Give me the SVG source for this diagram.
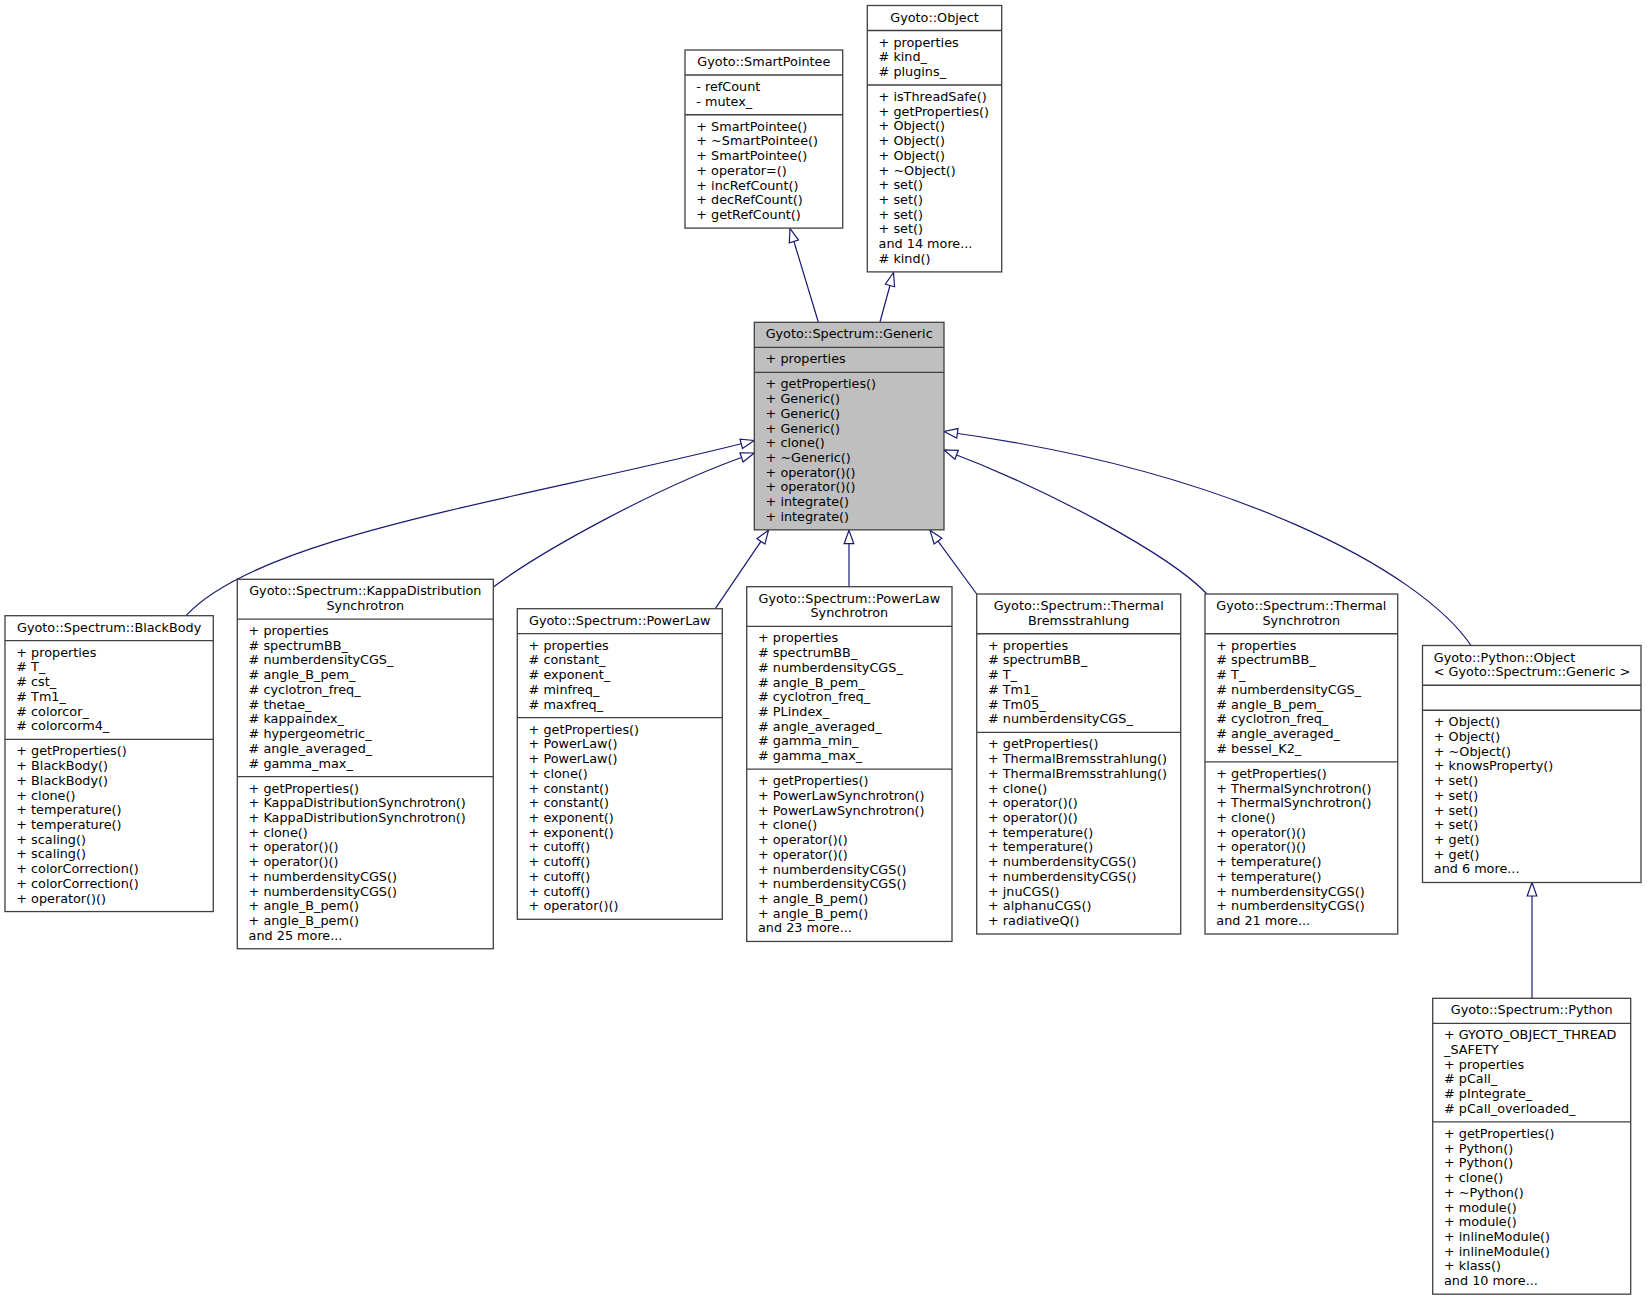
<svg xmlns="http://www.w3.org/2000/svg" width="1647" height="1300" viewBox="0 0 1647 1300">
<style>
text{font-family:"DejaVu Sans","Liberation Sans",sans-serif;font-size:12.8px;fill:#000}
.box{fill:#fff;stroke:#404040;stroke-width:1.3}
.cur{fill:#bfbfbf;stroke:#404040;stroke-width:1.3}
.sep{stroke:#404040;stroke-width:1.3}
.t{text-anchor:middle}
.e{fill:none;stroke:#191970;stroke-width:1.2;marker-end:url(#inh)}
</style>
<defs>
<marker id="inh" markerUnits="userSpaceOnUse" viewBox="-15 -7 17 14" refX="0" refY="0" markerWidth="17" markerHeight="14" orient="auto">
<path d="M0,0 L-13.5,-4.8 L-13.5,4.8 Z" fill="#fff" stroke="#191970" stroke-width="1.2"/>
</marker>
</defs>
<rect width="1647" height="1300" fill="#fff"/>

<g id="connectors">
<path class="e" d="M818.3,322 L790,228.5"/>
<path class="e" d="M880,322 L893.5,272.5"/>
<path class="e" d="M186,615.7 C260,535 520,500 754.3,440.5"/>
<path class="e" d="M493.4,587 C540,552 660,485 754.3,453"/>
<path class="e" d="M715.3,608.7 L768.5,530.2"/>
<path class="e" d="M849,586.7 L849,530.2"/>
<path class="e" d="M976.7,594 L930,530.2"/>
<path class="e" d="M1207,594 C1170,555 1050,490 944,450"/>
<path class="e" d="M1471,645.5 C1420,570 1230,470 944,431.5"/>
<path class="e" d="M1532,998.3 L1532,882.5"/>
</g>

<g id="SmartPointee">
<rect class="box" x="685" y="50" width="157.7" height="178.1"/>
<line class="sep" x1="685" y1="75.02" x2="842.7" y2="75.02"/>
<line class="sep" x1="685" y1="114.76" x2="842.7" y2="114.76"/>
<text class="t" x="763.85" y="66">Gyoto::SmartPointee</text>
<text x="696.3" y="91.02"><tspan x="696.3">- refCount</tspan><tspan x="696.3" dy="14.72">- mutex_</tspan></text>
<text x="696.3" y="130.76"><tspan x="696.3">+ SmartPointee()</tspan><tspan x="696.3" dy="14.72">+ ~SmartPointee()</tspan><tspan x="696.3" dy="14.72">+ SmartPointee()</tspan><tspan x="696.3" dy="14.72">+ operator=()</tspan><tspan x="696.3" dy="14.72">+ incRefCount()</tspan><tspan x="696.3" dy="14.72">+ decRefCount()</tspan><tspan x="696.3" dy="14.72">+ getRefCount()</tspan></text>
</g>

<g id="Object">
<rect class="box" x="867.3" y="5.5" width="134.4" height="266.4"/>
<line class="sep" x1="867.3" y1="30.52" x2="1001.7" y2="30.52"/>
<line class="sep" x1="867.3" y1="84.98" x2="1001.7" y2="84.98"/>
<text class="t" x="934.5" y="21.5">Gyoto::Object</text>
<text x="878.6" y="46.52"><tspan x="878.6">+ properties</tspan><tspan x="878.6" dy="14.72"># kind_</tspan><tspan x="878.6" dy="14.72"># plugins_</tspan></text>
<text x="878.6" y="100.98"><tspan x="878.6">+ isThreadSafe()</tspan><tspan x="878.6" dy="14.72">+ getProperties()</tspan><tspan x="878.6" dy="14.72">+ Object()</tspan><tspan x="878.6" dy="14.72">+ Object()</tspan><tspan x="878.6" dy="14.72">+ Object()</tspan><tspan x="878.6" dy="14.72">+ ~Object()</tspan><tspan x="878.6" dy="14.72">+ set()</tspan><tspan x="878.6" dy="14.72">+ set()</tspan><tspan x="878.6" dy="14.72">+ set()</tspan><tspan x="878.6" dy="14.72">+ set()</tspan><tspan x="878.6" dy="14.72">and 14 more...</tspan><tspan x="878.6" dy="14.72"># kind()</tspan></text>
</g>

<g id="Generic">
<rect class="cur" x="754.3" y="322.3" width="189.7" height="207.54"/>
<line class="sep" x1="754.3" y1="347.32" x2="944" y2="347.32"/>
<line class="sep" x1="754.3" y1="372.34" x2="944" y2="372.34"/>
<text class="t" x="849.15" y="338.3">Gyoto::Spectrum::Generic</text>
<text x="765.6" y="363.32">+ properties</text>
<text x="765.6" y="388.34"><tspan x="765.6">+ getProperties()</tspan><tspan x="765.6" dy="14.72">+ Generic()</tspan><tspan x="765.6" dy="14.72">+ Generic()</tspan><tspan x="765.6" dy="14.72">+ Generic()</tspan><tspan x="765.6" dy="14.72">+ clone()</tspan><tspan x="765.6" dy="14.72">+ ~Generic()</tspan><tspan x="765.6" dy="14.72">+ operator()()</tspan><tspan x="765.6" dy="14.72">+ operator()()</tspan><tspan x="765.6" dy="14.72">+ integrate()</tspan><tspan x="765.6" dy="14.72">+ integrate()</tspan></text>
</g>

<g id="BlackBody">
<rect class="box" x="5" y="615.7" width="208.3" height="295.86"/>
<line class="sep" x1="5" y1="640.72" x2="213.3" y2="640.72"/>
<line class="sep" x1="5" y1="739.34" x2="213.3" y2="739.34"/>
<text class="t" x="109.15" y="631.7">Gyoto::Spectrum::BlackBody</text>
<text x="16.3" y="656.72"><tspan x="16.3">+ properties</tspan><tspan x="16.3" dy="14.72"># T_</tspan><tspan x="16.3" dy="14.72"># cst_</tspan><tspan x="16.3" dy="14.72"># Tm1_</tspan><tspan x="16.3" dy="14.72"># colorcor_</tspan><tspan x="16.3" dy="14.72"># colorcorm4_</tspan></text>
<text x="16.3" y="755.34"><tspan x="16.3">+ getProperties()</tspan><tspan x="16.3" dy="14.72">+ BlackBody()</tspan><tspan x="16.3" dy="14.72">+ BlackBody()</tspan><tspan x="16.3" dy="14.72">+ clone()</tspan><tspan x="16.3" dy="14.72">+ temperature()</tspan><tspan x="16.3" dy="14.72">+ temperature()</tspan><tspan x="16.3" dy="14.72">+ scaling()</tspan><tspan x="16.3" dy="14.72">+ scaling()</tspan><tspan x="16.3" dy="14.72">+ colorCorrection()</tspan><tspan x="16.3" dy="14.72">+ colorCorrection()</tspan><tspan x="16.3" dy="14.72">+ operator()()</tspan></text>
</g>

<g id="KappaDistributionSynchrotron">
<rect class="box" x="237.3" y="579.3" width="256" height="369.46"/>
<line class="sep" x1="237.3" y1="619.04" x2="493.3" y2="619.04"/>
<line class="sep" x1="237.3" y1="776.54" x2="493.3" y2="776.54"/>
<text class="t" x="365.3" y="595.3"><tspan x="365.3">Gyoto::Spectrum::KappaDistribution</tspan><tspan x="365.3" dy="14.72">Synchrotron</tspan></text>
<text x="248.6" y="635.04"><tspan x="248.6">+ properties</tspan><tspan x="248.6" dy="14.72"># spectrumBB_</tspan><tspan x="248.6" dy="14.72"># numberdensityCGS_</tspan><tspan x="248.6" dy="14.72"># angle_B_pem_</tspan><tspan x="248.6" dy="14.72"># cyclotron_freq_</tspan><tspan x="248.6" dy="14.72"># thetae_</tspan><tspan x="248.6" dy="14.72"># kappaindex_</tspan><tspan x="248.6" dy="14.72"># hypergeometric_</tspan><tspan x="248.6" dy="14.72"># angle_averaged_</tspan><tspan x="248.6" dy="14.72"># gamma_max_</tspan></text>
<text x="248.6" y="792.54"><tspan x="248.6">+ getProperties()</tspan><tspan x="248.6" dy="14.72">+ KappaDistributionSynchrotron()</tspan><tspan x="248.6" dy="14.72">+ KappaDistributionSynchrotron()</tspan><tspan x="248.6" dy="14.72">+ clone()</tspan><tspan x="248.6" dy="14.72">+ operator()()</tspan><tspan x="248.6" dy="14.72">+ operator()()</tspan><tspan x="248.6" dy="14.72">+ numberdensityCGS()</tspan><tspan x="248.6" dy="14.72">+ numberdensityCGS()</tspan><tspan x="248.6" dy="14.72">+ angle_B_pem()</tspan><tspan x="248.6" dy="14.72">+ angle_B_pem()</tspan><tspan x="248.6" dy="14.72">and 25 more...</tspan></text>
</g>

<g id="PowerLaw">
<rect class="box" x="517.3" y="608.7" width="205" height="310.58"/>
<line class="sep" x1="517.3" y1="633.72" x2="722.3" y2="633.72"/>
<line class="sep" x1="517.3" y1="717.62" x2="722.3" y2="717.62"/>
<text class="t" x="619.8" y="624.7">Gyoto::Spectrum::PowerLaw</text>
<text x="528.6" y="649.72"><tspan x="528.6">+ properties</tspan><tspan x="528.6" dy="14.72"># constant_</tspan><tspan x="528.6" dy="14.72"># exponent_</tspan><tspan x="528.6" dy="14.72"># minfreq_</tspan><tspan x="528.6" dy="14.72"># maxfreq_</tspan></text>
<text x="528.6" y="733.62"><tspan x="528.6">+ getProperties()</tspan><tspan x="528.6" dy="14.72">+ PowerLaw()</tspan><tspan x="528.6" dy="14.72">+ PowerLaw()</tspan><tspan x="528.6" dy="14.72">+ clone()</tspan><tspan x="528.6" dy="14.72">+ constant()</tspan><tspan x="528.6" dy="14.72">+ constant()</tspan><tspan x="528.6" dy="14.72">+ exponent()</tspan><tspan x="528.6" dy="14.72">+ exponent()</tspan><tspan x="528.6" dy="14.72">+ cutoff()</tspan><tspan x="528.6" dy="14.72">+ cutoff()</tspan><tspan x="528.6" dy="14.72">+ cutoff()</tspan><tspan x="528.6" dy="14.72">+ cutoff()</tspan><tspan x="528.6" dy="14.72">+ operator()()</tspan></text>
</g>

<g id="PowerLawSynchrotron">
<rect class="box" x="746.7" y="586.7" width="205.3" height="354.74"/>
<line class="sep" x1="746.7" y1="626.44" x2="952" y2="626.44"/>
<line class="sep" x1="746.7" y1="769.22" x2="952" y2="769.22"/>
<text class="t" x="849.35" y="602.7"><tspan x="849.35">Gyoto::Spectrum::PowerLaw</tspan><tspan x="849.35" dy="14.72">Synchrotron</tspan></text>
<text x="758" y="642.44"><tspan x="758">+ properties</tspan><tspan x="758" dy="14.72"># spectrumBB_</tspan><tspan x="758" dy="14.72"># numberdensityCGS_</tspan><tspan x="758" dy="14.72"># angle_B_pem_</tspan><tspan x="758" dy="14.72"># cyclotron_freq_</tspan><tspan x="758" dy="14.72"># PLindex_</tspan><tspan x="758" dy="14.72"># angle_averaged_</tspan><tspan x="758" dy="14.72"># gamma_min_</tspan><tspan x="758" dy="14.72"># gamma_max_</tspan></text>
<text x="758" y="785.22"><tspan x="758">+ getProperties()</tspan><tspan x="758" dy="14.72">+ PowerLawSynchrotron()</tspan><tspan x="758" dy="14.72">+ PowerLawSynchrotron()</tspan><tspan x="758" dy="14.72">+ clone()</tspan><tspan x="758" dy="14.72">+ operator()()</tspan><tspan x="758" dy="14.72">+ operator()()</tspan><tspan x="758" dy="14.72">+ numberdensityCGS()</tspan><tspan x="758" dy="14.72">+ numberdensityCGS()</tspan><tspan x="758" dy="14.72">+ angle_B_pem()</tspan><tspan x="758" dy="14.72">+ angle_B_pem()</tspan><tspan x="758" dy="14.72">and 23 more...</tspan></text>
</g>

<g id="ThermalBremsstrahlung">
<rect class="box" x="976.7" y="594" width="204" height="340.02"/>
<line class="sep" x1="976.7" y1="633.74" x2="1180.7" y2="633.74"/>
<line class="sep" x1="976.7" y1="732.36" x2="1180.7" y2="732.36"/>
<text class="t" x="1078.7" y="610"><tspan x="1078.7">Gyoto::Spectrum::Thermal</tspan><tspan x="1078.7" dy="14.72">Bremsstrahlung</tspan></text>
<text x="988" y="649.74"><tspan x="988">+ properties</tspan><tspan x="988" dy="14.72"># spectrumBB_</tspan><tspan x="988" dy="14.72"># T_</tspan><tspan x="988" dy="14.72"># Tm1_</tspan><tspan x="988" dy="14.72"># Tm05_</tspan><tspan x="988" dy="14.72"># numberdensityCGS_</tspan></text>
<text x="988" y="748.36"><tspan x="988">+ getProperties()</tspan><tspan x="988" dy="14.72">+ ThermalBremsstrahlung()</tspan><tspan x="988" dy="14.72">+ ThermalBremsstrahlung()</tspan><tspan x="988" dy="14.72">+ clone()</tspan><tspan x="988" dy="14.72">+ operator()()</tspan><tspan x="988" dy="14.72">+ operator()()</tspan><tspan x="988" dy="14.72">+ temperature()</tspan><tspan x="988" dy="14.72">+ temperature()</tspan><tspan x="988" dy="14.72">+ numberdensityCGS()</tspan><tspan x="988" dy="14.72">+ numberdensityCGS()</tspan><tspan x="988" dy="14.72">+ jnuCGS()</tspan><tspan x="988" dy="14.72">+ alphanuCGS()</tspan><tspan x="988" dy="14.72">+ radiativeQ()</tspan></text>
</g>

<g id="ThermalSynchrotron">
<rect class="box" x="1205" y="594" width="192.7" height="340.02"/>
<line class="sep" x1="1205" y1="633.74" x2="1397.7" y2="633.74"/>
<line class="sep" x1="1205" y1="761.8" x2="1397.7" y2="761.8"/>
<text class="t" x="1301.35" y="610"><tspan x="1301.35">Gyoto::Spectrum::Thermal</tspan><tspan x="1301.35" dy="14.72">Synchrotron</tspan></text>
<text x="1216.3" y="649.74"><tspan x="1216.3">+ properties</tspan><tspan x="1216.3" dy="14.72"># spectrumBB_</tspan><tspan x="1216.3" dy="14.72"># T_</tspan><tspan x="1216.3" dy="14.72"># numberdensityCGS_</tspan><tspan x="1216.3" dy="14.72"># angle_B_pem_</tspan><tspan x="1216.3" dy="14.72"># cyclotron_freq_</tspan><tspan x="1216.3" dy="14.72"># angle_averaged_</tspan><tspan x="1216.3" dy="14.72"># bessel_K2_</tspan></text>
<text x="1216.3" y="777.8"><tspan x="1216.3">+ getProperties()</tspan><tspan x="1216.3" dy="14.72">+ ThermalSynchrotron()</tspan><tspan x="1216.3" dy="14.72">+ ThermalSynchrotron()</tspan><tspan x="1216.3" dy="14.72">+ clone()</tspan><tspan x="1216.3" dy="14.72">+ operator()()</tspan><tspan x="1216.3" dy="14.72">+ operator()()</tspan><tspan x="1216.3" dy="14.72">+ temperature()</tspan><tspan x="1216.3" dy="14.72">+ temperature()</tspan><tspan x="1216.3" dy="14.72">+ numberdensityCGS()</tspan><tspan x="1216.3" dy="14.72">+ numberdensityCGS()</tspan><tspan x="1216.3" dy="14.72">and 21 more...</tspan></text>
</g>

<g id="PythonObject">
<rect class="box" x="1422.5" y="645.5" width="218.5" height="236.98"/>
<line class="sep" x1="1422.5" y1="685.24" x2="1641" y2="685.24"/>
<line class="sep" x1="1422.5" y1="710.26" x2="1641" y2="710.26"/>
<text x="1433.8" y="661.5"><tspan x="1433.8">Gyoto::Python::Object</tspan><tspan x="1433.8" dy="14.72">&lt; Gyoto::Spectrum::Generic &gt;</tspan></text>
<text x="1433.8" y="726.26"><tspan x="1433.8">+ Object()</tspan><tspan x="1433.8" dy="14.72">+ Object()</tspan><tspan x="1433.8" dy="14.72">+ ~Object()</tspan><tspan x="1433.8" dy="14.72">+ knowsProperty()</tspan><tspan x="1433.8" dy="14.72">+ set()</tspan><tspan x="1433.8" dy="14.72">+ set()</tspan><tspan x="1433.8" dy="14.72">+ set()</tspan><tspan x="1433.8" dy="14.72">+ set()</tspan><tspan x="1433.8" dy="14.72">+ get()</tspan><tspan x="1433.8" dy="14.72">+ get()</tspan><tspan x="1433.8" dy="14.72">and 6 more...</tspan></text>
</g>

<g id="Python">
<rect class="box" x="1432.7" y="998.3" width="198" height="295.86"/>
<line class="sep" x1="1432.7" y1="1023.32" x2="1630.7" y2="1023.32"/>
<line class="sep" x1="1432.7" y1="1121.94" x2="1630.7" y2="1121.94"/>
<text class="t" x="1531.7" y="1014.3">Gyoto::Spectrum::Python</text>
<text x="1444" y="1039.32"><tspan x="1444">+ GYOTO_OBJECT_THREAD</tspan><tspan x="1444" dy="14.72">_SAFETY</tspan><tspan x="1444" dy="14.72">+ properties</tspan><tspan x="1444" dy="14.72"># pCall_</tspan><tspan x="1444" dy="14.72"># pIntegrate_</tspan><tspan x="1444" dy="14.72"># pCall_overloaded_</tspan></text>
<text x="1444" y="1137.94"><tspan x="1444">+ getProperties()</tspan><tspan x="1444" dy="14.72">+ Python()</tspan><tspan x="1444" dy="14.72">+ Python()</tspan><tspan x="1444" dy="14.72">+ clone()</tspan><tspan x="1444" dy="14.72">+ ~Python()</tspan><tspan x="1444" dy="14.72">+ module()</tspan><tspan x="1444" dy="14.72">+ module()</tspan><tspan x="1444" dy="14.72">+ inlineModule()</tspan><tspan x="1444" dy="14.72">+ inlineModule()</tspan><tspan x="1444" dy="14.72">+ klass()</tspan><tspan x="1444" dy="14.72">and 10 more...</tspan></text>
</g>
</svg>
